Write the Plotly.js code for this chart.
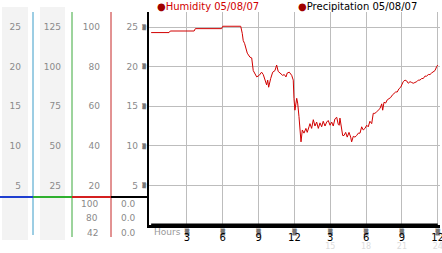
<!DOCTYPE html>
<html><head><meta charset="utf-8">
<script src="https://cdn.plot.ly/plotly-3.0.1.min.js"></script>
<style>html,body{margin:0;padding:0;background:#fff}#chart{width:442px;height:253px}</style>
</head><body><div id="chart"></div>
<script>
// ---- data ----
const humidityHours = [0,1.5,1.6,3.6,3.7,5.9,6.0,7.5,7.63,7.71,7.83,7.94,8.05,8.27,8.42,8.55,8.69,8.84,9.05,9.25,9.39,9.53,9.67,9.76,9.84,10.01,10.18,10.37,10.51,10.64,10.79,11.01,11.15,11.29,11.40,11.57,11.77,11.90,11.96,12.04,12.19,12.27,12.38,12.46,12.55,12.66,12.80,12.96,13.07,13.22,13.30,13.44,13.58,13.72,13.86,14.00,14.14,14.28,14.41,14.56,14.70,14.83,14.98,15.12,15.25,15.39,15.54,15.67,15.75,15.81,15.96,16.04,16.15,16.29,16.42,16.57,16.71,16.79,16.93,17.07,17.21,17.35,17.49,17.63,17.76,17.91,18.05,18.18,18.32,18.47,18.60,18.74,18.89,19.02,19.16,19.31,19.39,19.50,19.64,19.77,19.92,20.06,20.19,20.34,20.48,20.61,20.75,20.90,21.03,21.11,21.26,21.40,21.53,21.68,21.82,21.95,22.09,22.24,22.37,22.51,22.66,22.79,22.93,23.07,23.21,23.35,23.49,23.63,23.77,23.91,24.0];
const humidityValues = [24.3,24.3,24.5,24.5,24.8,24.8,25.1,25.1,24.2,23.3,22.9,22.1,21.7,21.2,21.1,19.5,19.0,18.7,18.9,19.3,19.0,18.4,17.7,18.3,17.4,18.5,19.3,19.5,20.2,19.4,19.2,18.9,19.0,18.7,19.2,19.3,18.9,18.3,16.0,14.5,16.0,15.4,13.7,12.0,10.5,12.0,11.6,12.2,11.7,12.4,12.8,12.2,13.3,12.5,13.0,12.2,12.9,12.4,13.1,12.5,13.0,13.2,12.6,13.0,12.5,13.4,13.6,12.7,12.6,13.5,12.0,11.3,11.3,11.7,11.1,11.7,11.1,10.5,11.2,11.1,11.3,11.6,11.6,12.4,12.0,12.2,12.6,12.4,13.1,12.8,14.1,14.1,14.3,14.5,14.7,15.3,14.5,15.5,15.4,15.8,16.0,16.1,16.4,16.6,16.8,16.8,17.2,17.4,17.9,18.1,18.3,18.2,17.9,18.1,18.0,17.9,18.0,18.1,18.3,18.3,18.5,18.5,18.8,18.8,19.0,19.0,19.2,19.3,19.5,20.0,20.2];
const precipHours = [0, 24];
const precipValues = [0, 0];
const hourTicks = [3,6,9,12,15,18,21,24];
const hourLabels = ['3','6','9','12','3','6','9','12'];
const hourLabels24 = ['','','','','15','18','21','24'];
const scaleTicks = [5,10,15,20,25];
const col1Labels = ['5','10','15','20','25'];
const col2Labels = ['25','50','75','100','125'];
const col3Labels = ['20','40','60','80','100'];
const col4Labels = ['5','10','15','20','25'];
const col3Current = ['100','80','42'];
const col4Current = ['0.0','0.0','0.0'];
const seriesNames = ['Humidity 05/08/07','Precipitation 05/08/07'];
const tickMark = '▒';

// ---- layout helpers ----
const W = 440, H = 213; // paper size in px (l=0,r=2,t=12,b=28)
const px = x => x / W;
const py = y => (225 - y) / H;
const FONT = 'DejaVu Sans';
const GRAY = '#8a8a8a';

const traces = [
  {x: precipHours, y: precipValues, mode: 'lines', line: {color: '#000', width: 3}, showlegend: false, hoverinfo: 'skip', name: seriesNames[1], cliponaxis: false},
  {x: humidityHours, y: humidityValues, mode: 'lines', line: {color: '#d10000', width: 1}, showlegend: false, name: seriesNames[0]}
];

function labelAxis(pos, labels) {
  return {overlaying: 'y', anchor: 'free', position: pos, side: 'left', range: [0, 26.9],
    tickvals: scaleTicks, ticktext: labels, ticks: '', showgrid: false, zeroline: false, showline: false,
    tickfont: {family: FONT, size: 9, color: GRAY}, fixedrange: true};
}

const shapes = [
  {type: 'rect', xref: 'paper', yref: 'paper', x0: px(2), x1: px(28), y0: py(240), y1: py(7), fillcolor: '#f3f3f3', line: {width: 0}, layer: 'below'},
  {type: 'rect', xref: 'paper', yref: 'paper', x0: px(40), x1: px(65), y0: py(240), y1: py(7), fillcolor: '#f3f3f3', line: {width: 0}, layer: 'below'},
  {type: 'line', xref: 'paper', yref: 'paper', x0: px(33), x1: px(33), y0: py(235), y1: py(12), line: {color: '#3a9cc8', width: 1}},
  {type: 'line', xref: 'paper', yref: 'paper', x0: px(72), x1: px(72), y0: py(237), y1: py(12), line: {color: '#3aa83a', width: 1}},
  {type: 'line', xref: 'paper', yref: 'paper', x0: px(111), x1: px(111), y0: py(237), y1: py(12), line: {color: '#c62626', width: 1}},
  {type: 'line', xref: 'paper', yref: 'paper', x0: px(0), x1: px(33), y0: py(197), y1: py(197), line: {color: '#1f3fd0', width: 2}},
  {type: 'line', xref: 'paper', yref: 'paper', x0: px(33), x1: px(72), y0: py(197), y1: py(197), line: {color: '#2fb02f', width: 2}},
  {type: 'line', xref: 'paper', yref: 'paper', x0: px(72), x1: px(111), y0: py(197), y1: py(197), line: {color: '#d42020', width: 2}},
  {type: 'line', xref: 'paper', yref: 'paper', x0: px(111), x1: px(149), y0: py(197), y1: py(197), line: {color: '#000', width: 2}}
];

const annotations = [];
const rowsY = [204, 218, 233];
col3Current.forEach((t, i) => annotations.push({text: t, xref: 'paper', yref: 'paper', x: px(100), y: py(rowsY[i]), xanchor: 'right', yanchor: 'middle', showarrow: false, font: {family: FONT, size: 9, color: GRAY}}));
col4Current.forEach((t, i) => annotations.push({text: t, xref: 'paper', yref: 'paper', x: px(138), y: py(rowsY[i]), xanchor: 'right', yanchor: 'middle', showarrow: false, font: {family: FONT, size: 9, color: GRAY}}));
annotations.push({text: 'Hours', xref: 'paper', yref: 'paper', x: px(152), y: py(232), xanchor: 'left', yanchor: 'middle', showarrow: false, font: {family: FONT, size: 9, color: '#999'}});
annotations.push({text: '<span style="color:#a00000">●</span>' + seriesNames[0], xref: 'paper', yref: 'paper', x: px(155), y: py(6), xanchor: 'left', yanchor: 'middle', showarrow: false, font: {family: FONT, size: 10, color: '#d10000'}});
annotations.push({text: '<span style="color:#a00000">●</span>' + seriesNames[1], xref: 'paper', yref: 'paper', x: px(296), y: py(6), xanchor: 'left', yanchor: 'middle', showarrow: false, font: {family: FONT, size: 10, color: '#000'}});

const layout = {
  width: 442, height: 253,
  margin: {l: 0, r: 2, t: 12, b: 28, pad: 0},
  paper_bgcolor: '#fff', plot_bgcolor: '#fff',
  showlegend: false,
  font: {family: FONT},
  xaxis: {domain: [px(149), 1], range: [-0.18, 24.19], tickvals: hourTicks, ticktext: hourLabels,
    showgrid: true, gridcolor: '#bdbdbd', gridwidth: 1, zeroline: false, showline: true, linecolor: '#000', linewidth: 3,
    ticks: '', ticklabelstandoff: 1, ticklabeloverflow: 'allow', tickfont: {family: FONT, size: 10, color: '#000'}, fixedrange: true},
  xaxis2: {overlaying: 'x', matches: 'x', anchor: 'y', side: 'bottom', range: [-0.18, 24.19], tickvals: hourTicks,
    ticktext: hourTicks.map(() => tickMark), showgrid: false, zeroline: false, showline: false, ticks: '', ticklabelstandoff: 2,
    ticklabeloverflow: 'allow', tickfont: {family: FONT, size: 6, color: '#000'}},
  xaxis3: {overlaying: 'x', matches: 'x', anchor: 'y', side: 'bottom', range: [-0.18, 24.19], tickvals: hourTicks,
    ticktext: hourLabels24, showgrid: false, zeroline: false, showline: false, ticks: '', ticklabelstandoff: 15,
    ticklabeloverflow: 'allow', tickfont: {family: FONT, size: 8, color: '#dcdcdc'}},
  yaxis: {range: [0, 26.9], tickvals: scaleTicks, ticktext: scaleTicks.map(() => tickMark), showgrid: true, gridcolor: '#bdbdbd', gridwidth: 1,
    zeroline: false, showline: true, linecolor: '#000', linewidth: 2, ticks: '', tickfont: {family: FONT, size: 5, color: '#000'}, fixedrange: true},
  yaxis2: labelAxis(px(21), col1Labels),
  yaxis3: labelAxis(px(61), col2Labels),
  yaxis4: labelAxis(px(100), col3Labels),
  yaxis5: labelAxis(px(138), col4Labels),
  shapes: shapes,
  annotations: annotations
};
// dummy traces to activate overlay axes
const axisTraces = [
  {x: [null], y: [null], xaxis: 'x2', yaxis: 'y', showlegend: false, hoverinfo: 'skip'},
  {x: [null], y: [null], xaxis: 'x3', yaxis: 'y', showlegend: false, hoverinfo: 'skip'},
  {x: [null], y: [null], xaxis: 'x', yaxis: 'y2', showlegend: false, hoverinfo: 'skip'},
  {x: [null], y: [null], xaxis: 'x', yaxis: 'y3', showlegend: false, hoverinfo: 'skip'},
  {x: [null], y: [null], xaxis: 'x', yaxis: 'y4', showlegend: false, hoverinfo: 'skip'},
  {x: [null], y: [null], xaxis: 'x', yaxis: 'y5', showlegend: false, hoverinfo: 'skip'}
];
Plotly.newPlot('chart', traces.concat(axisTraces), layout, {staticPlot: true, displayModeBar: false});
</script></body></html>
